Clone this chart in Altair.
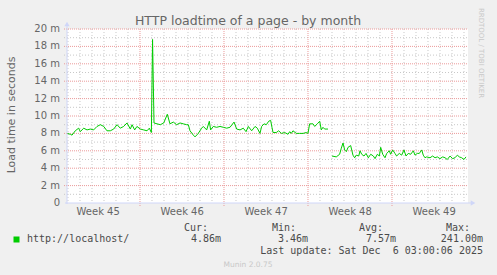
import altair as alt
import pandas as pd

# ---- data (days since start of window, load time in milliseconds) ----
seg1_days = [0.00, 0.28, 0.42, 0.69, 0.97, 1.11, 1.39, 1.67, 1.94, 2.22, 2.50, 2.78, 3.06, 3.33,
             3.61, 3.89, 4.17, 4.44, 4.72, 5.00, 5.28, 5.42, 5.64, 5.83, 6.11, 6.39, 6.67, 6.86,
             7.03, 7.13, 7.25, 7.50, 7.78, 8.06, 8.36, 8.58, 8.86, 9.14, 9.42, 9.69, 9.97, 10.11,
             10.25, 10.53, 10.67, 10.94, 11.22, 11.36, 11.64, 11.86, 11.97, 12.19, 12.47, 12.75,
             13.03, 13.31, 13.58, 13.92, 14.14, 14.42, 14.69, 14.92, 15.11, 15.39, 15.67, 15.86,
             16.08, 16.22, 16.42, 16.61, 16.81, 16.97, 17.08, 17.17, 17.44, 17.64, 17.86, 18.14,
             18.42, 18.56, 18.69, 18.83, 19.11, 19.39, 19.67, 19.94, 20.08, 20.22, 20.50, 20.64,
             20.86, 21.06, 21.19, 21.33, 21.47, 21.75]
seg1_ms = [8.0, 7.9, 7.8, 8.3, 8.6, 8.2, 8.6, 8.4, 8.5, 8.4, 8.8, 9.0, 8.8, 8.3,
           8.3, 8.5, 9.0, 8.6, 8.8, 9.2, 8.5, 9.0, 8.4, 8.8, 8.5, 8.4, 8.3, 8.6,
           8.1, 18.8, 9.2, 9.1, 9.0, 9.2, 10.2, 9.1, 9.3, 9.0, 9.2, 9.1, 9.0, 9.0,
           8.3, 7.8, 7.6, 8.0, 8.6, 8.8, 8.4, 9.4, 8.4, 8.8, 8.7, 8.8,
           8.7, 8.6, 8.7, 9.3, 8.5, 8.4, 8.6, 8.2, 8.8, 8.3, 8.8, 8.6,
           8.0, 8.8, 9.1, 9.0, 9.4, 9.5, 8.7, 8.1, 8.1, 8.3, 8.0, 8.1,
           7.9, 8.2, 8.0, 8.3, 8.0, 8.0, 8.0, 8.1, 8.0, 9.1, 9.1, 8.8,
           9.1, 9.4, 8.4, 8.7, 8.5, 8.5]

seg2_days = [22.08, 22.44, 22.72, 22.86, 23.00, 23.14, 23.28, 23.42, 23.64, 23.83, 23.97, 24.11,
             24.31, 24.42, 24.56, 24.75, 24.92, 25.11, 25.31, 25.53, 25.67, 25.86, 26.03, 26.14,
             26.31, 26.50, 26.64, 26.86, 26.97, 27.14, 27.33, 27.47, 27.69, 27.89, 28.08, 28.25,
             28.44, 28.64, 28.86, 29.00, 29.19, 29.36, 29.56, 29.69, 29.83, 29.97, 30.25, 30.47,
             30.67, 30.86, 31.08, 31.31, 31.50, 31.69, 31.92, 32.14, 32.33, 32.53, 32.69, 32.89,
             33.08, 33.25]
seg2_ms = [5.4, 5.3, 5.6, 6.3, 6.9, 6.1, 5.9, 6.4, 6.6, 5.5, 5.2, 5.5,
           5.4, 6.0, 5.6, 5.4, 5.7, 5.2, 5.6, 5.4, 5.1, 5.6, 5.4, 6.4,
           5.6, 5.2, 5.7, 6.0, 5.6, 6.1, 5.7, 5.4, 5.7, 5.5, 6.1, 5.4,
           5.7, 5.6, 6.0, 5.5, 5.7, 5.7, 6.1, 5.5, 5.2, 5.3, 5.2, 5.4,
           5.2, 5.3, 5.1, 5.3, 5.2, 5.0, 5.4, 5.1, 5.2, 5.5, 5.3, 5.2,
           5.0, 5.3]

week_labels = ["Week 45", "Week 46", "Week 47", "Week 48", "Week 49"]
week_centers = [2.6, 9.6, 16.6, 23.6, 30.6]
week_starts = [6.083, 13.083, 20.083, 27.083]
day_lines = [k + 0.083 for k in range(34) if (k % 7) != 6]
y_ticks = [0, 2, 4, 6, 8, 10, 12, 14, 16, 18, 20]
y_tick_labels = ["0", "2 m", "4 m", "6 m", "8 m", "10 m", "12 m", "14 m", "16 m", "18 m", "20 m"]
y_major = [2, 4, 6, 8, 10, 12, 14, 16, 18, 20]
y_minor = [1, 3, 5, 7, 9, 11, 13, 15, 17, 19]

series_name = "http://localhost/"
cur_val, min_val, avg_val, max_val = "4.86m", "3.46m", "7.57m", "241.00m"
last_update = "Last update: Sat Dec \u00a06 03:00:06 2025"
title_text = "HTTP loadtime of a page - by month"

# ---- layout ----
W, H = 401, 174
FONT = "DejaVu Sans"
MONO = "DejaVu Sans Mono"
FC = "#666666"
LC = "#4a4a4a"
AXC = "#cfd6f8"

xs = alt.Scale(domain=[0, W / 12], nice=False, zero=False)
ys = alt.Scale(domain=[0, 20], nice=False)

df = pd.DataFrame({
    "day": seg1_days + seg2_days,
    "ms": seg1_ms + seg2_ms,
    "seg": ["a"] * len(seg1_days) + ["b"] * len(seg2_days),
})
dummy = pd.DataFrame({"d": [0]})


def label(txt, x, y, **kw):
    return alt.Chart(dummy).mark_text(**kw).encode(
        x=alt.value(x), y=alt.value(y), text=alt.value(txt))


minor_v = alt.Chart(pd.DataFrame({"day": day_lines})).mark_rule(
    color="#c8c8c8", strokeDash=[1, 2], strokeWidth=1
).encode(x=alt.X("day:Q", scale=xs, axis=None), y=alt.value(0), y2=alt.value(H))

major_v = alt.Chart(pd.DataFrame({"day": week_starts})).mark_rule(
    color="#eb9a9a", strokeDash=[1, 1], strokeWidth=1
).encode(x=alt.X("day:Q", scale=xs, axis=None), y=alt.value(0), y2=alt.value(H + 3))

minor_h = alt.Chart(pd.DataFrame({"v": y_minor})).mark_rule(
    color="#c8c8c8", strokeDash=[1, 2], strokeWidth=1
).encode(y=alt.Y("v:Q", scale=ys, axis=None), x=alt.value(-3), x2=alt.value(W))

major_h = alt.Chart(pd.DataFrame({"v": y_major})).mark_rule(
    color="#eb9a9a", strokeDash=[1, 1], strokeWidth=1
).encode(y=alt.Y("v:Q", scale=ys, axis=None), x=alt.value(-3), x2=alt.value(W))

ylabels = alt.Chart(pd.DataFrame({"v": y_ticks, "lab": y_tick_labels})).mark_text(
    font=FONT, fontSize=10, color=FC, align="right", baseline="middle"
).encode(y=alt.Y("v:Q", scale=ys, axis=None), x=alt.value(-7), text="lab:N")

line = alt.Chart(df).mark_line(color="#00cc00", strokeWidth=1).encode(
    x=alt.X("day:Q", scale=xs, axis=None),
    y=alt.Y("ms:Q", scale=ys, axis=None),
    detail="seg:N",
)

weeks = alt.Chart(pd.DataFrame({"day": week_centers, "lab": week_labels})).mark_text(
    font=FONT, fontSize=10, color=FC, baseline="alphabetic", align="center"
).encode(x=alt.X("day:Q", scale=xs, axis=None), y=alt.value(186), text="lab:N")

yaxis_line = alt.Chart(dummy).mark_rule(color=AXC, strokeWidth=1).encode(
    x=alt.value(0), y=alt.value(-3), y2=alt.value(H + 1))
xaxis_line = alt.Chart(dummy).mark_rule(color=AXC, strokeWidth=1).encode(
    x=alt.value(-2), x2=alt.value(W + 3), y=alt.value(H))
yarrow = alt.Chart(dummy).mark_point(shape="triangle-up", filled=True, color=AXC,
                                     size=28, opacity=1).encode(
    x=alt.value(0), y=alt.value(-5))
xarrow = alt.Chart(dummy).mark_point(shape="triangle-right", filled=True, color=AXC,
                                     size=28, opacity=1).encode(
    x=alt.value(W + 5), y=alt.value(H))

swatch = alt.Chart(dummy).mark_square(color="#00cc00", size=36, opacity=1).encode(
    x=alt.value(-50.5), y=alt.value(210.5))

texts = [
    label(title_text, 181, -4.5, font=FONT, fontSize=12.5, color=FC, align="center",
          baseline="alphabetic"),
    label("Load time in seconds", -55.5, 86, font=FONT, fontSize=11, color=FC,
          align="center", baseline="middle", angle=270),
    label("RRDTOOL / TOBI OETIKER", 414, 24, font=FONT, fontSize=7, color="#c8c8c8",
          align="center", baseline="middle", angle=90),
    label(series_name, -40, 213, font=MONO, fontSize=10, color=LC, align="left",
          baseline="alphabetic"),
    label("Cur:", 141, 202, font=MONO, fontSize=10, color=LC, align="right",
          baseline="alphabetic"),
    label("Min:", 229, 202, font=MONO, fontSize=10, color=LC, align="right",
          baseline="alphabetic"),
    label("Avg:", 316, 202, font=MONO, fontSize=10, color=LC, align="right",
          baseline="alphabetic"),
    label("Max:", 403, 202, font=MONO, fontSize=10, color=LC, align="right",
          baseline="alphabetic"),
    label(cur_val, 154, 213, font=MONO, fontSize=10, color=LC, align="right",
          baseline="alphabetic"),
    label(min_val, 241, 213, font=MONO, fontSize=10, color=LC, align="right",
          baseline="alphabetic"),
    label(avg_val, 329, 213, font=MONO, fontSize=10, color=LC, align="right",
          baseline="alphabetic"),
    label(max_val, 416, 213, font=MONO, fontSize=10, color=LC, align="right",
          baseline="alphabetic"),
    label(last_update, 416, 225, font=MONO, fontSize=10, color=LC, align="right",
          baseline="alphabetic"),
    label("Munin 2.0.75", 181, 238, font=FONT, fontSize=7.5, color="#c8c8c8",
          align="center", baseline="alphabetic"),
]

chart = alt.layer(
    minor_v, minor_h, major_v, major_h, line, weeks, ylabels,
    yaxis_line, xaxis_line, yarrow, xarrow, swatch, *texts
).properties(
    width=W, height=H,
    padding={"left": 67, "top": 29, "right": 29, "bottom": 72},
    autosize=alt.AutoSizeParams(type="none"),
    background="#f0f0f0",
).configure_view(fill="white", strokeWidth=0)

chart.save("out.html", embed_options={"renderer": "svg", "actions": False})
